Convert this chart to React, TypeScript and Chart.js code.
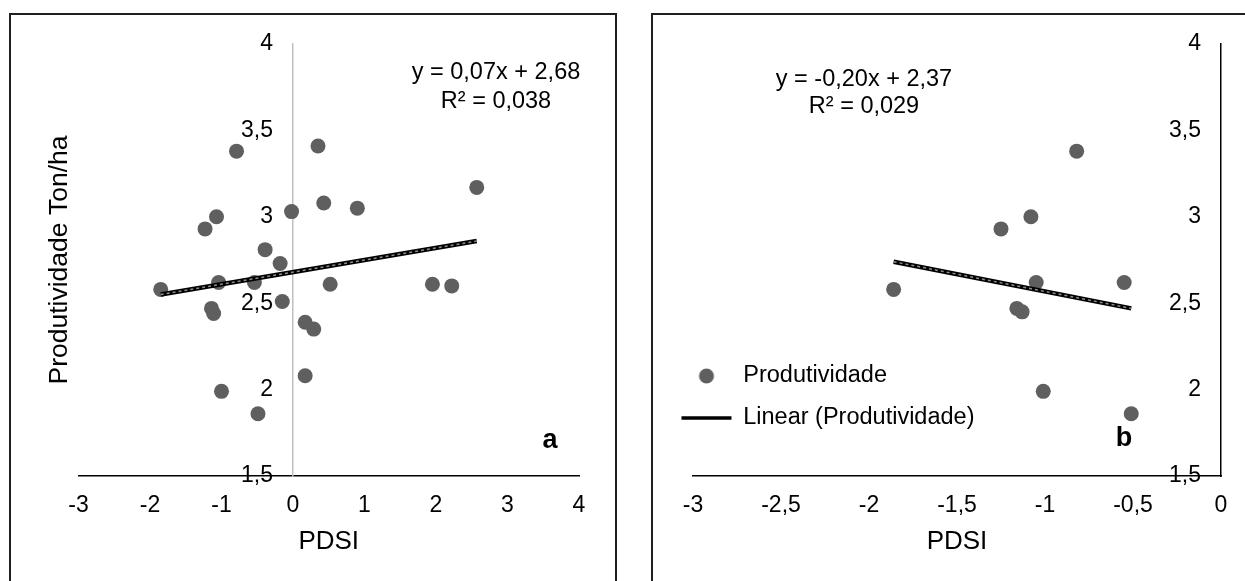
import React, { useEffect, useRef } from 'react';
import { Chart, registerables } from 'chart.js';

Chart.register(...registerables);

const FAMILY = '"Liberation Sans", Arial, Helvetica, sans-serif';
const POINT_COLOR = '#5f5f5f';

// ---- data ----
const leftPdsi = [-0.79, 0.35, 2.57, 0.43, 0.9, -0.02, -1.07, -1.23, -0.39, -0.18, -1.85, -1.04, -0.54, 0.52, 1.95, 2.22, -0.15, -1.14, -1.11, 0.17, 0.29, 0.17, -1.0, -0.49];
const leftProd = [3.38, 3.41, 3.17, 3.08, 3.05, 3.03, 3.0, 2.93, 2.81, 2.73, 2.58, 2.62, 2.62, 2.61, 2.61, 2.6, 2.51, 2.47, 2.44, 2.39, 2.35, 2.08, 1.99, 1.86];
const leftTrendPdsi = [-1.85, 2.57];
const leftTrendProd = [2.55, 2.86];

const rightPdsi = [-0.82, -1.08, -1.25, -1.05, -0.55, -1.86, -1.16, -1.13, -1.01, -0.51];
const rightProd = [3.38, 3.0, 2.93, 2.62, 2.62, 2.58, 2.47, 2.45, 1.99, 1.86];
const rightTrendPdsi = [-1.86, -0.51];
const rightTrendProd = [2.74, 2.47];

const leftXTickLabels = ['-3', '-2', '-1', '0', '1', '2', '3', '4'];
const rightXTickLabels = ['-3', '-2,5', '-2', '-1,5', '-1', '-0,5', '0'];
const yTickLabels = ['1,5', '2', '2,5', '3', '3,5', '4'];

const seriesName = 'Produtividade';
const trendName = 'Linear (Produtividade)';
const yTitle = 'Produtividade Ton/ha';
const xTitle = 'PDSI';
const leftEquation = ['y = 0,07x + 2,68', 'R² = 0,038'];
const rightEquation = ['y = -0,20x + 2,37', 'R² = 0,029'];
const leftTag = 'a';
const rightTag = 'b';

const toPoints = (xs: number[], ys: number[]) => xs.map((x, i) => ({ x, y: ys[i] }));

function makeDatasets(xs: number[], ys: number[], tx: number[], ty: number[]) {
  return [
    {
      label: seriesName,
      data: toPoints(xs, ys),
      pointRadius: 7.5,
      pointHoverRadius: 7.5,
      backgroundColor: POINT_COLOR,
      borderWidth: 0,
      showLine: false,
      order: 2,
    },
    {
      label: trendName,
      data: toPoints(tx, ty),
      showLine: true,
      pointRadius: 0,
      pointHoverRadius: 0,
      borderColor: '#000000',
      borderWidth: 4.5,
      order: 1,
    },
    {
      label: trendName + ' overlay',
      data: toPoints(tx, ty),
      showLine: true,
      pointRadius: 0,
      pointHoverRadius: 0,
      borderColor: '#8c8c8c',
      borderWidth: 1.5,
      borderDash: [3, 3],
      order: 0,
    },
  ];
}

function makePinPlugin(legendPos: { left: number; top: number } | null) {
  return {
    id: 'pinAxis',
    afterLayout(chart: any) {
      const xs = chart.scales.x;
      const ys = chart.scales.y;
      const px = xs.getPixelForValue(0);
      ys.right = px;
      ys.left = 0;
      if (legendPos && chart.legend) {
        chart.legend.left = legendPos.left;
        chart.legend.top = legendPos.top;
        chart.legend.bottom = chart.height;
        chart.legend.right = chart.width;
      }
    },
  };
}

function makeTextPlugin(lines: string[], cx: number, y0: number, step: number, tag: string, tagX: number, tagY: number) {
  return {
    id: 'annotText',
    afterDraw(chart: any) {
      const ctx = chart.ctx;
      ctx.save();
      ctx.fillStyle = '#000';
      ctx.textAlign = 'center';
      ctx.textBaseline = 'middle';
      ctx.font = `23.5px ${FAMILY}`;
      lines.forEach((t, i) => ctx.fillText(t, cx, y0 + i * step));
      ctx.font = `bold 27px ${FAMILY}`;
      ctx.textBaseline = 'alphabetic';
      ctx.fillText(tag, tagX, tagY);
      ctx.restore();
    },
  };
}

function baseScales(xMin: number, xMax: number, xStep: number, xLabels: string[], yBorderColor: string, withYTitle: boolean) {
  return {
    x: {
      type: 'linear',
      position: 'bottom',
      min: xMin,
      max: xMax,
      grid: { display: false, drawTicks: false },
      border: { display: true, color: '#000', width: 1.5 },
      ticks: {
        stepSize: xStep,
        padding: 16,
        autoSkip: false,
        maxRotation: 0,
        color: '#000',
        font: { family: FAMILY, size: 23 },
        callback: (_v: any, i: number) => xLabels[i],
      },
      title: {
        display: true,
        text: xTitle,
        color: '#000',
        font: { family: FAMILY, size: 26 },
        padding: { top: 0, bottom: 23.4 },
      },
      afterFit: (s: any) => {
        s.height = 105;
      },
    },
    y: {
      type: 'linear',
      position: 'left',
      min: 1.5,
      max: 4,
      grid: { display: false, drawTicks: false },
      border: { display: true, color: yBorderColor, width: 1.5 },
      ticks: {
        stepSize: 0.5,
        padding: 20,
        color: '#000',
        font: { family: FAMILY, size: 23 },
        callback: (_v: any, i: number) => yTickLabels[i],
      },
      title: {
        display: withYTitle,
        text: yTitle,
        color: '#000',
        font: { family: FAMILY, size: 26.5 },
        padding: { top: 44, bottom: 0 },
      },
      afterFit: (s: any) => {
        s.width = 0;
      },
    },
  };
}

function makeCircleCanvas() {
  const c = document.createElement('canvas');
  c.width = 18;
  c.height = 18;
  const g = c.getContext('2d');
  if (g) {
    g.fillStyle = POINT_COLOR;
    g.beginPath();
    g.arc(9, 9, 7.5, 0, Math.PI * 2);
    g.fill();
  }
  return c;
}

export default function App() {
  const leftRef = useRef<HTMLCanvasElement | null>(null);
  const rightRef = useRef<HTMLCanvasElement | null>(null);

  useEffect(() => {
    if (!leftRef.current || !rightRef.current) return;

    const left = new Chart(leftRef.current, {
      type: 'scatter',
      data: { datasets: makeDatasets(leftPdsi, leftProd, leftTrendPdsi, leftTrendProd) as any },
      options: {
        responsive: false,
        animation: false,
        events: [],
        layout: { padding: { left: 78.5, right: 51, top: 44, bottom: 0 } },
        plugins: { legend: { display: false }, tooltip: { enabled: false } },
        scales: baseScales(-3, 4, 1, leftXTickLabels, '#bfbfbf', true) as any,
      },
      plugins: [makePinPlugin(null), makeTextPlugin(leftEquation, 496, 73, 29, leftTag, 550, 448)],
    });

    const circle = makeCircleCanvas();
    const right = new Chart(rightRef.current, {
      type: 'scatter',
      data: { datasets: makeDatasets(rightPdsi, rightProd, rightTrendPdsi, rightTrendProd) as any },
      options: {
        responsive: false,
        animation: false,
        events: [],
        layout: { padding: { left: 63, right: 24, top: 44, bottom: 0 } },
        plugins: {
          tooltip: { enabled: false },
          legend: {
            display: true,
            position: 'chartArea',
            align: 'start',
            labels: {
              usePointStyle: true,
              pointStyleWidth: 50,
              padding: 18.5,
              color: '#000',
              font: { family: FAMILY, size: 23.5 },
              generateLabels: () => [
                { text: seriesName, pointStyle: circle, fillStyle: POINT_COLOR, strokeStyle: POINT_COLOR, lineWidth: 0, fontColor: '#000', hidden: false, datasetIndex: 0 },
                { text: trendName, pointStyle: 'line', fillStyle: '#000', strokeStyle: '#000', lineWidth: 3.5, fontColor: '#000', hidden: false, datasetIndex: 1 },
              ],
            },
          } as any,
        },
        scales: baseScales(-3, 0, 0.5, rightXTickLabels, '#000', false) as any,
      },
      plugins: [
        makePinPlugin({ left: 33, top: 345.75 }),
        makeTextPlugin(rightEquation, 234, 80, 27, rightTag, 494, 446),
      ],
    });

    return () => {
      left.destroy();
      right.destroy();
    };
  }, []);

  return (
    <div style={{ position: 'fixed', left: 0, top: 0, width: 1245, height: 581, overflow: 'hidden', background: '#fff' }}>
      <div style={{ position: 'absolute', left: 9, top: 13, width: 608, height: 700, border: '2px solid #1f1f1f', boxSizing: 'border-box' }} />
      <div style={{ position: 'absolute', left: 651, top: 13, width: 700, height: 700, border: '2px solid #1f1f1f', boxSizing: 'border-box' }} />
      <canvas ref={leftRef} width={630} height={581} style={{ position: 'absolute', left: 0, top: 0, width: 630, height: 581 }} />
      <canvas ref={rightRef} width={615} height={581} style={{ position: 'absolute', left: 630, top: 0, width: 615, height: 581 }} />
    </div>
  );
}
